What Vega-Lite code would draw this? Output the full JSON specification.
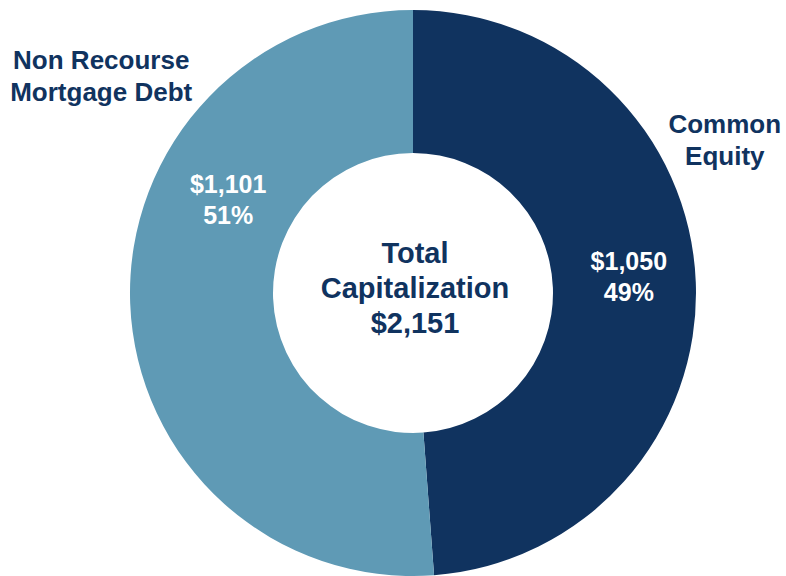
{
  "$schema": "https://vega.github.io/schema/vega-lite/v6.json",
  "width": 746,
  "height": 566,
  "autosize": "none",
  "padding": {"left": 40, "right": 0, "top": 10, "bottom": 0},
  "background": "white",
  "view": {"stroke": null},
  "config": {"font": "Liberation Sans"},
  "datasets": {
    "parts": [
      {"category": "Common Equity", "amount": 1050, "order": 1, "title": "Common\nEquity", "detail": "$1,050\n49%"},
      {"category": "Non Recourse Mortgage Debt", "amount": 1101, "order": 2, "title": "Non Recourse\nMortgage Debt", "detail": "$1,101\n51%"}
    ],
    "center": [{"center": "Total\nCapitalization\n$2,151"}]
  },
  "layer": [
    {
      "data": {"name": "parts"},
      "encoding": {
        "theta": {"field": "amount", "type": "quantitative", "stack": true},
        "order": {"field": "order", "type": "quantitative"}
      },
      "layer": [
        {
          "mark": {"type": "arc", "innerRadius": 140, "outerRadius": 283},
          "encoding": {
            "color": {
              "field": "category",
              "type": "nominal",
              "scale": {"domain": ["Common Equity", "Non Recourse Mortgage Debt"], "range": ["#10335F", "#5F9AB5"]},
              "legend": null
            }
          }
        },
        {
          "mark": {"type": "text", "radius": 213, "dx": 3, "dy": -23, "fontSize": 25, "fontWeight": "bold", "lineHeight": 31, "lineBreak": "\n", "color": "white", "align": "center", "baseline": "middle"},
          "encoding": {"text": {"condition": {"test": "datum.category == 'Common Equity'", "field": "detail"}, "value": ""}}
        },
        {
          "mark": {"type": "text", "radius": 213, "dx": 28, "dy": -116, "fontSize": 25, "fontWeight": "bold", "lineHeight": 31, "lineBreak": "\n", "color": "white", "align": "center", "baseline": "middle"},
          "encoding": {"text": {"condition": {"test": "datum.category == 'Non Recourse Mortgage Debt'", "field": "detail"}, "value": ""}}
        },
        {
          "mark": {"type": "text", "radius": 312, "dy": -156, "fontSize": 26, "fontWeight": "bold", "lineHeight": 32, "lineBreak": "\n", "color": "#10335F", "align": "center", "baseline": "middle"},
          "encoding": {"text": {"condition": {"test": "datum.category == 'Common Equity'", "field": "title"}, "value": ""}}
        },
        {
          "mark": {"type": "text", "radius": 310, "dx": -2, "dy": -244, "fontSize": 26, "fontWeight": "bold", "lineHeight": 32, "lineBreak": "\n", "color": "#10335F", "align": "center", "baseline": "middle"},
          "encoding": {"text": {"condition": {"test": "datum.category == 'Non Recourse Mortgage Debt'", "field": "title"}, "value": ""}}
        }
      ]
    },
    {
      "data": {"name": "center"},
      "mark": {"type": "text", "dx": 2, "dy": -39, "fontSize": 29, "fontWeight": "bold", "lineHeight": 35, "lineBreak": "\n", "color": "#10335F", "align": "center", "baseline": "middle"},
      "encoding": {"text": {"field": "center"}}
    }
  ]
}
